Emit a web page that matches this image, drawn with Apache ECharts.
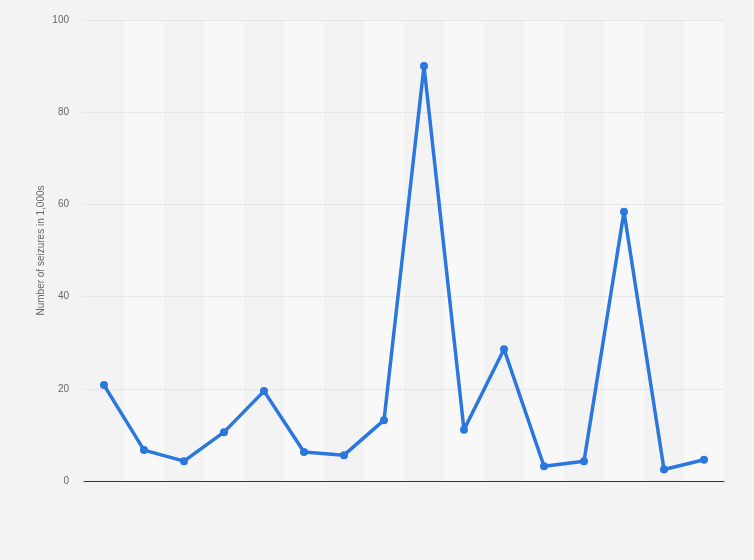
<!DOCTYPE html>
<html>
<head>
<meta charset="utf-8">
<script src="https://cdn.jsdelivr.net/npm/echarts@6/dist/echarts.min.js"></script>
<style>
  html, body { margin: 0; padding: 0; background: #f3f3f3; }
  #line-chart { width: 754px; height: 560px; }
</style>
</head>
<body>
<div id="line-chart"></div>
<script>
// x labels are not shown in the picture
var categories = ['1', '2', '3', '4', '5', '6', '7', '8', '9', '10', '11', '12', '13', '14', '15', '16'];
var seizures = [20.8, 6.7, 4.3, 10.6, 19.5, 6.3, 5.6, 13.2, 90.0, 11.1, 28.6, 3.2, 4.3, 58.4, 2.5, 4.6];
var yTicks = [0, 20, 40, 60, 80, 100];

var myChart = echarts.init(document.getElementById('line-chart'));

var option = {
    backgroundColor: '#f3f3f3',
    animation: false,
    grid: { left: 84, right: 30, top: 20, bottom: 79 },
    xAxis: {
        type: 'category',
        boundaryGap: true,
        data: categories,
        z: 1,
        axisLine: { lineStyle: { color: '#333', width: 1 } },
        axisTick: { show: false },
        axisLabel: { show: false },
        splitArea: { show: true, areaStyle: { color: ['rgba(0,0,0,0)', '#f8f8f8'] } }
    },
    yAxis: {
        type: 'value',
        min: yTicks[0],
        max: yTicks[yTicks.length - 1],
        interval: 20,
        z: 3,
        name: 'Number of seizures in 1,000s',
        nameLocation: 'middle',
        nameGap: 38,
        nameMoveOverlap: false,
        nameTextStyle: { color: '#666', fontSize: 10, fontFamily: 'Arial, Liberation Sans, sans-serif' },
        axisLine: { show: false },
        axisTick: { show: false },
        axisLabel: { color: '#666', fontSize: 10, margin: 15, fontFamily: 'Arial, Liberation Sans, sans-serif' },
        splitLine: { showMinLine: false, lineStyle: { color: '#d8d8d8', type: 'dotted' } }
    },
    series: [{
        type: 'line',
        data: seizures,
        z: 5,
        symbol: 'circle',
        symbolSize: 8,
        itemStyle: { color: '#2a77dd' },
        lineStyle: { color: '#2a77dd', width: 3.5 }
    }]
};

myChart.setOption(option);
</script>
</body>
</html>
